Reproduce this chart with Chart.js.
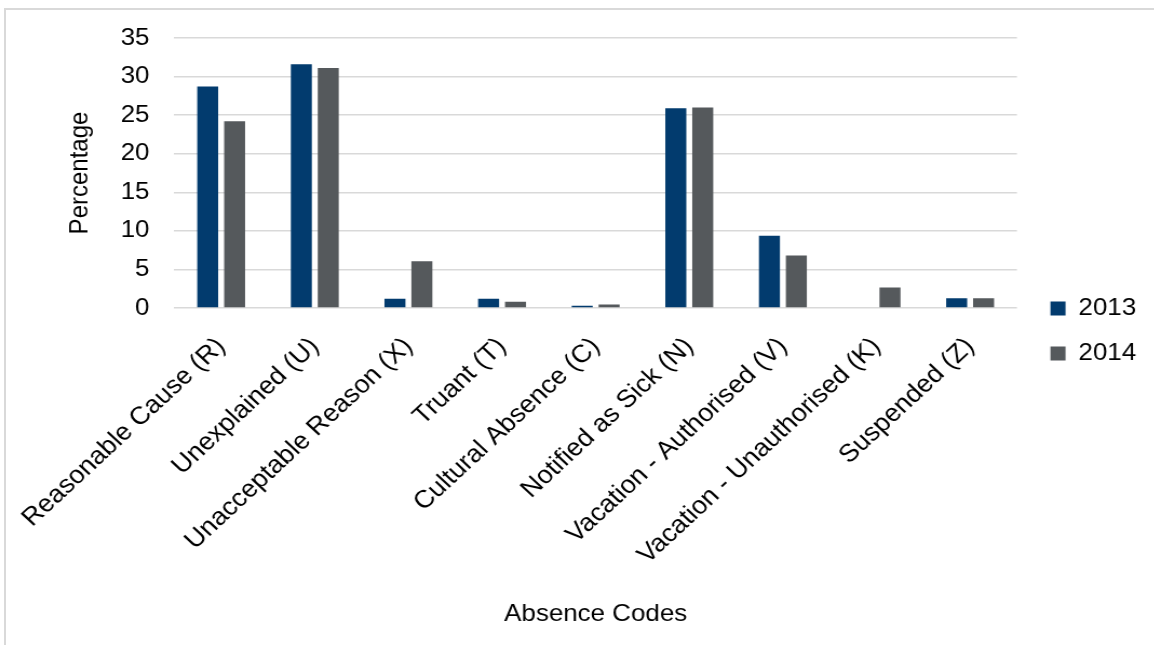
<!DOCTYPE html>
<html>
<head>
<meta charset="utf-8">
<script src="https://cdn.jsdelivr.net/npm/chart.js@4"></script>
<style>
    body { margin: 0; background: #fff; overflow: hidden; }
    #wrap { position: relative; width: 1154px; height: 645px; overflow: hidden; }
    #frame {
        position: absolute; left: 4px; top: 8px; right: -10px; bottom: -10px;
        border-left: 2px solid #d9d9d9; border-top: 2px solid #d9d9d9;
    }
    /* the source picture is a little wider than tall, stretch the canvas to match */
    canvas { position: absolute; left: 0; top: 0; transform: scaleX(1.08); transform-origin: 0 0; }
</style>
</head>
<body>
<div id="wrap">
    <div id="frame"></div>
    <canvas id="myChart" width="1079" height="645"></canvas>
</div>
<script>
// absence categories
const categories = [
    "Reasonable Cause (R)",
    "Unexplained (U)",
    "Unacceptable Reason (X)",
    "Truant (T)",
    "Cultural Absence (C)",
    "Notified as Sick (N)",
    "Vacation - Authorised (V)",
    "Vacation - Unauthorised (K)",
    "Suspended (Z)",
];
// percentages
const values2013 = [28.7, 31.6, 1.2, 1.2, 0.3, 25.9, 9.35, 0, 1.25];
const values2014 = [24.2, 31.1, 6.05, 0.8, 0.45, 26.0, 6.8, 2.65, 1.25];
const yTicks = [0, 5, 10, 15, 20, 25, 30, 35];

const FONT = "'Liberation Sans', Arial, sans-serif";

window.onload = function () {
    const ctx = document.getElementById("myChart").getContext("2d");
    const config = {
        type: "bar",
        data: {
            labels: categories,
            datasets: [
                { label: "2013", data: values2013, backgroundColor: "#023b6e" },
                { label: "2014", data: values2014, backgroundColor: "#55595c" },
            ],
        },
        options: {
            responsive: false,
            animation: false,
            categoryPercentage: 0.575,
            barPercentage: 0.78,
            layout: { padding: { top: 17, left: 0, right: 17, bottom: 0 } },
            plugins: {
                tooltip: { enabled: false },
                legend: {
                    position: "right",
                    labels: {
                        boxWidth: 14,
                        boxHeight: 14,
                        padding: 21,
                        color: "#000",
                        font: { family: FONT, size: 24 },
                    },
                },
            },
            scales: {
                x: {
                    grid: { display: false },
                    border: { display: false },
                    ticks: {
                        autoSkip: false,
                        maxRotation: 45,
                        minRotation: 45,
                        padding: 16,
                        color: "#000",
                        font: { family: FONT, size: 25 },
                    },
                    title: {
                        display: true,
                        text: "Absence Codes",
                        color: "#000",
                        padding: { top: 0, bottom: 16 },
                        font: { family: FONT, size: 24 },
                    },
                    afterFit: (scale) => { scale.height = 337; },
                },
                y: {
                    min: 0,
                    max: 35,
                    afterBuildTicks: (scale) => {
                        scale.ticks = yTicks.map((v) => ({ value: v }));
                    },
                    grid: { color: "#d9d9d9", lineWidth: 1.5, drawTicks: false },
                    border: { display: false },
                    ticks: {
                        padding: 23,
                        color: "#000",
                        font: { family: FONT, size: 24 },
                    },
                    title: {
                        display: true,
                        text: "Percentage",
                        color: "#000",
                        padding: { top: 60, bottom: 0 },
                        font: { family: FONT, size: 24 },
                    },
                    afterFit: (scale) => { scale.width = 161; },
                },
                // empty spacer axes to place the plot area and legend
                spacerTop: {
                    type: "linear",
                    axis: "x",
                    position: "top",
                    grid: { display: false },
                    border: { display: false },
                    ticks: { display: false },
                    afterFit: (scale) => { scale.height = 21; },
                },
                spacerRight: {
                    type: "linear",
                    axis: "y",
                    position: "right",
                    grid: { display: false },
                    border: { display: false },
                    ticks: { display: false },
                    afterFit: (scale) => { scale.width = 10; },
                },
            },
        },
    };
    window.graph = new Chart(ctx, config);
};
</script>
</body>
</html>
